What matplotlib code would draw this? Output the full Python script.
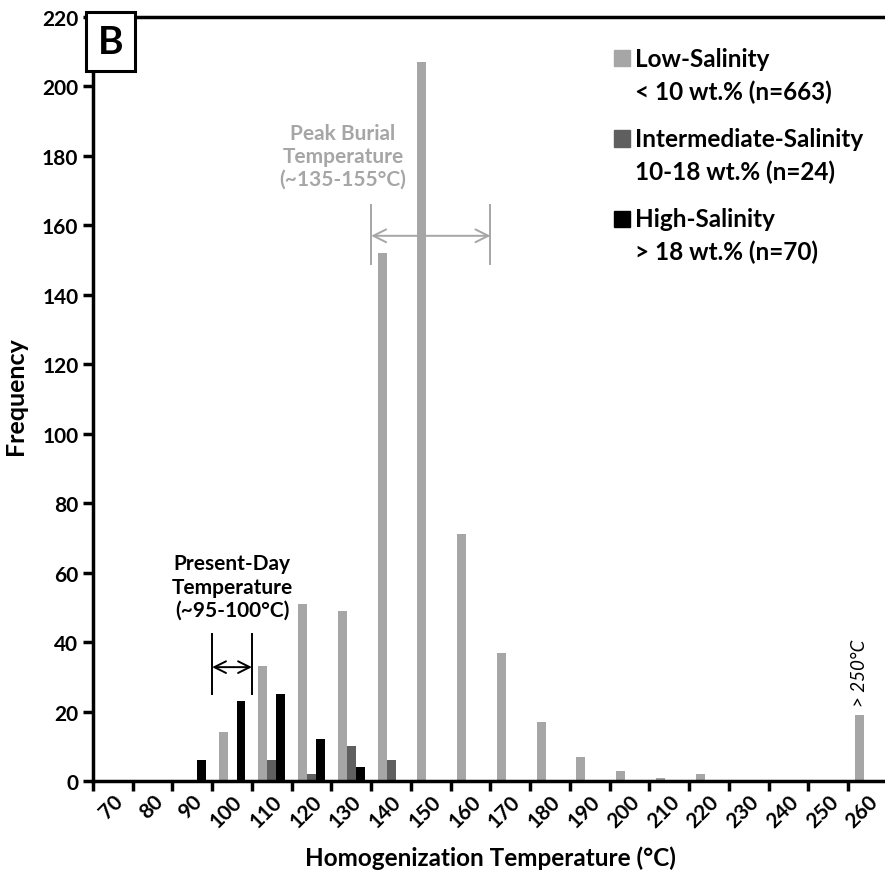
# histogram of fluid inclusion homogenization temperatures, panel B
import matplotlib.pyplot as plt
import numpy as np
from matplotlib.patches import Rectangle

plt.rcParams['font.family'] = ['Lato', 'DejaVu Sans']
plt.rcParams['font.weight'] = 'bold'

bins = ['70', '80', '90', '100', '110', '120', '130', '140', '150', '160',
        '170', '180', '190', '200', '210', '220', '230', '240', '250', '260']
low = [0, 0, 0, 14, 33, 51, 49, 152, 207, 71, 37, 17, 7, 3, 1, 2, 0, 0, 0, 19]
mid = [0, 0, 0, 0, 6, 2, 10, 6, 0, 0, 0, 0, 0, 0, 0, 0, 0, 0, 0, 0]
high = [0, 0, 6, 23, 25, 12, 4, 0, 0, 0, 0, 0, 0, 0, 0, 0, 0, 0, 0, 0]

names = ['Low-Salinity', 'Intermediate-Salinity', 'High-Salinity']
ranges = ['< 10 wt.% (n=663)', '10-18 wt.% (n=24)', '> 18 wt.% (n=70)']
colors = ['#a6a6a6', '#5f5f5f', '#000000']

fig = plt.figure(figsize=(8.85, 8.79), dpi=100)
ax = fig.add_axes([0.105, 0.1103, 0.8983, 0.8692])

x = np.arange(len(bins))
w = 0.225
for k, (vals, c) in enumerate(zip([low, mid, high], colors)):
    ax.bar(x + (k - 1) * w, vals, width=w, color=c, zorder=2)

ax.set_xlim(-0.5, len(bins) - 0.5)
ax.set_ylim(0, 220)
ax.set_yticks(np.arange(0, 221, 20))
ax.set_xticks(np.arange(len(bins) + 1) - 0.5)
ax.set_xticklabels([])
ax.set_xticks(x, minor=True)
ax.set_xticklabels(bins, minor=True, rotation=45, ha='right', va='top',
                   rotation_mode='anchor', fontsize=15, fontweight='bold')
ax.tick_params(axis='x', which='minor', length=0, pad=7)
ax.tick_params(axis='x', which='major', length=7, width=2.5, direction='out')
ax.tick_params(axis='y', length=7, width=2.5, direction='out', labelsize=15)
for lab in ax.get_yticklabels():
    lab.set_fontweight('bold')
for s in ['left', 'bottom', 'top', 'right']:
    ax.spines[s].set_linewidth(2.5)

ax.set_xlabel('Homogenization Temperature (°C)', fontsize=17.5, fontweight='bold')
ax.xaxis.set_label_coords(0.5, -0.084)
ax.set_ylabel('Frequency', fontsize=18, fontweight='bold')
ax.yaxis.set_label_coords(-0.083, 0.505)

# panel letter
ax.text(0.006, 0.991, 'B', transform=ax.transAxes, fontsize=28, fontweight='bold',
        ha='left', va='top',
        bbox=dict(boxstyle='square,pad=0.3', fc='white', ec='black', lw=2.2))

# legend drawn by hand so the square sits on the first line
lx, ly = 0.655, 0.946
for k in range(3):
    yy = ly - k * 0.105
    ax.add_patch(Rectangle((lx, yy - 0.0105), 0.02, 0.021, transform=ax.transAxes,
                           color=colors[k], clip_on=False))
    ax.text(lx + 0.027, yy, names[k], transform=ax.transAxes, fontsize=17.5,
            fontweight='bold', va='center')
    ax.text(lx + 0.027, yy - 0.043, ranges[k], transform=ax.transAxes, fontsize=17.5,
            fontweight='bold', va='center')

# peak burial annotation
gray = '#a6a6a6'
ax.annotate('', xy=(6.5, 157), xytext=(9.5, 157),
            arrowprops=dict(arrowstyle='<->', color=gray, lw=1.4, mutation_scale=23,
                            shrinkA=0, shrinkB=0))
ax.plot([6.5, 6.5], [149, 166], color=gray, lw=1.4)
ax.plot([9.5, 9.5], [149, 166], color=gray, lw=1.4)
ax.text(5.79, 180, 'Peak Burial\nTemperature\n(~135-155°C)', color=gray, fontsize=15,
        fontweight='bold', ha='center', va='center', linespacing=1.2)

# present-day annotation
ax.annotate('', xy=(2.5, 32.8), xytext=(3.5, 32.8),
            arrowprops=dict(arrowstyle='<->', color='black', lw=1.4, mutation_scale=21,
                            shrinkA=0, shrinkB=0))
ax.plot([2.5, 2.5], [25, 42.3], color='black', lw=1.4)
ax.plot([3.5, 3.5], [25, 42.3], color='black', lw=1.4)
ax.text(3.0, 56, 'Present-Day\nTemperature\n(~95-100°C)', color='black', fontsize=15,
        fontweight='bold', ha='center', va='center', linespacing=1.2)

# label over the open-ended last bin
ax.text(x[-1] - w, low[-1] + 2.5, '> 250°C', rotation=90, style='italic',
        fontweight='normal', fontsize=13.5, ha='center', va='bottom')

fig.savefig('out.png', dpi=100)
